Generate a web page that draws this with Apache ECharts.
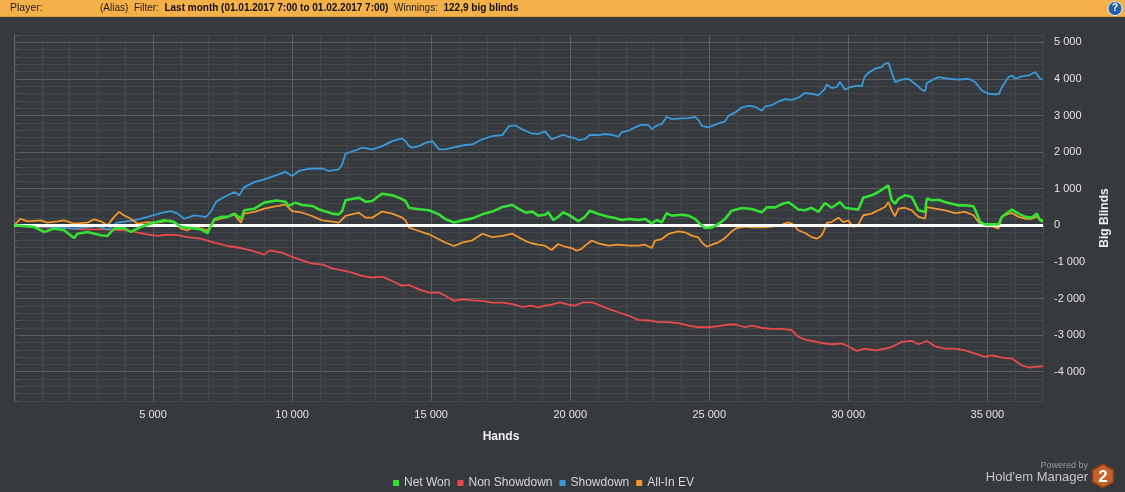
<!DOCTYPE html>
<html>
<head>
<meta charset="utf-8">
<script src="https://cdn.jsdelivr.net/npm/echarts@6/dist/echarts.min.js"></script>
<style>
  html, body { margin: 0; padding: 0; background: #36393d; }
  #chart { width: 1125px; height: 492px; }
</style>
</head>
<body>
<div id="chart"></div>
<script>
// [hands, big blinds]
const netWon = [
  [0, 0], [720, -45], [1080, -180], [1440, -90], [1800, -135], [2160, -345], [2280, -230], [2640, -180],
  [3120, -270], [3360, -290], [3600, -90], [3960, -75], [4200, -180], [4560, -45], [5040, 75], [5400, 135],
  [5760, 90], [6000, -45], [6360, -75], [6720, -110], [6960, -210], [7200, 165], [7440, 230], [7680, 230],
  [7920, 320], [8160, 180], [8280, 410], [8640, 455], [9000, 620], [9430, 680], [9760, 645], [9880, 530],
  [10120, 620], [10360, 555], [10720, 530], [10960, 440], [11200, 375], [11440, 320], [11680, 300], [11800, 390],
  [11920, 685], [12400, 755], [12640, 645], [12880, 665], [13120, 800], [13240, 865], [13600, 820], [13840, 755],
  [14080, 665], [14200, 480], [14560, 440], [14920, 410], [15280, 300], [15520, 165], [15820, 75], [16120, 135],
  [16480, 190], [16840, 300], [17200, 375], [17560, 500], [17920, 555], [18160, 440], [18400, 345], [18640, 375],
  [18850, 265], [19090, 290], [19210, 355], [19390, 145], [19570, 235], [19750, 355], [19930, 290], [20170, 175],
  [20290, 110], [20530, 235], [20710, 400], [21010, 310], [21370, 235], [21610, 200], [21850, 145], [22090, 175],
  [22450, 145], [22690, 175], [22930, 55], [23110, 145], [23290, 80], [23470, 330], [23650, 265], [24010, 290],
  [24250, 265], [24490, 175], [24670, 35], [24850, -75], [25090, -55], [25330, 35], [25570, 175], [25810, 400],
  [26170, 475], [26530, 445], [26890, 355], [27070, 490], [27370, 490], [27610, 580], [27850, 630], [28030, 535],
  [28200, 430], [28440, 410], [28680, 480], [28920, 365], [29160, 610], [29400, 480], [29700, 635], [29880, 480],
  [30120, 455], [30360, 430], [30540, 755], [30840, 820], [31080, 910], [31320, 1030], [31440, 1090], [31560, 685],
  [31680, 590], [31800, 725], [32040, 820], [32280, 775], [32520, 410], [32760, 365], [32820, 730], [33000, 685],
  [33240, 700], [33480, 635], [33720, 590], [33960, 545], [34200, 545], [34500, 520], [34620, 320], [34740, 90],
  [34920, 25], [35160, 25], [35400, 25], [35520, 230], [35760, 365], [35880, 430], [36120, 320], [36360, 230],
  [36600, 210], [36780, 320], [36900, 135], [37000, 135]
];

const nonShowdown = [
  [0, 0], [1200, -65], [1680, -65], [2400, -110], [3120, -110], [3960, -135], [4320, -180], [4800, -245],
  [5160, -290], [5520, -255], [5880, -270], [6240, -320], [6720, -365], [7200, -475], [7680, -565], [8160, -620],
  [8520, -685], [9000, -800], [9180, -685], [9640, -745], [10000, -865], [10360, -955], [10720, -1045], [11080, -1065],
  [11440, -1175], [11800, -1230], [12160, -1290], [12520, -1380], [12880, -1430], [13240, -1400], [13600, -1520], [13960, -1655],
  [14200, -1630], [14560, -1750], [14920, -1840], [15280, -1840], [15520, -1930], [15820, -2065], [16120, -2020], [16480, -2050],
  [16840, -2065], [17200, -2110], [17560, -2110], [17920, -2155], [18280, -2230], [18610, -2195], [18850, -2240], [19090, -2195],
  [19330, -2165], [19630, -2105], [19930, -2165], [20170, -2195], [20470, -2105], [20770, -2105], [21010, -2165], [21370, -2285],
  [21730, -2375], [22090, -2465], [22450, -2585], [22810, -2600], [23170, -2645], [23530, -2645], [23890, -2675], [24250, -2740],
  [24610, -2785], [24970, -2785], [25330, -2755], [25690, -2710], [25930, -2710], [26290, -2785], [26530, -2740], [26890, -2805],
  [27250, -2830], [27610, -2830], [27960, -2865], [28200, -3050], [28440, -3120], [28680, -3160], [29040, -3215], [29400, -3250],
  [29760, -3230], [30000, -3305], [30300, -3430], [30600, -3370], [30960, -3415], [31320, -3370], [31560, -3325], [31920, -3185],
  [32280, -3160], [32520, -3250], [32820, -3160], [33120, -3305], [33480, -3370], [33840, -3370], [34200, -3415], [34560, -3505],
  [34920, -3595], [35160, -3550], [35520, -3615], [35880, -3640], [36240, -3825], [36480, -3885], [36720, -3865], [37000, -3850]
];

const showdown = [
  [0, 0], [1200, -45], [2160, -90], [3000, -20], [3360, -120], [3720, 75], [4320, 135], [4800, 230],
  [5280, 335], [5640, 390], [5880, 320], [6120, 180], [6480, 270], [6900, 230], [7080, 365], [7260, 640],
  [7560, 775], [7920, 910], [8100, 820], [8280, 1045], [8640, 1180], [9000, 1255], [9520, 1390], [9760, 1465],
  [10000, 1345], [10240, 1485], [10600, 1545], [11080, 1555], [11320, 1485], [11680, 1530], [11800, 1665], [11920, 1955],
  [12280, 2050], [12520, 2120], [12880, 2075], [13240, 2165], [13600, 2300], [13960, 2375], [14080, 2300], [14200, 2165],
  [14320, 2120], [14560, 2165], [14800, 2255], [15040, 2300], [15280, 2075], [15520, 2075], [15880, 2140], [16240, 2195],
  [16480, 2210], [16840, 2350], [17200, 2440], [17560, 2465], [17800, 2710], [18040, 2730], [18280, 2620], [18610, 2510],
  [18850, 2495], [19090, 2565], [19330, 2355], [19570, 2420], [19750, 2475], [19930, 2420], [20170, 2385], [20290, 2330],
  [20530, 2355], [20710, 2475], [21010, 2465], [21250, 2495], [21490, 2475], [21730, 2420], [21850, 2540], [22090, 2585],
  [22330, 2675], [22570, 2750], [22810, 2740], [22930, 2630], [23170, 2750], [23290, 2765], [23470, 2965], [23650, 2900],
  [24010, 2920], [24250, 2930], [24490, 2965], [24610, 2875], [24730, 2720], [24970, 2675], [25210, 2750], [25450, 2810],
  [25570, 2840], [25690, 2990], [25930, 3085], [26170, 3220], [26410, 3265], [26650, 3240], [26890, 3130], [27010, 3240],
  [27250, 3285], [27490, 3385], [27730, 3450], [27960, 3430], [28200, 3485], [28440, 3615], [28680, 3595], [28920, 3550],
  [29160, 3730], [29220, 3850], [29400, 3750], [29580, 3775], [29700, 3915], [29880, 3705], [30060, 3775], [30360, 3820],
  [30480, 3795], [30580, 4050], [30720, 4165], [30960, 4280], [31200, 4320], [31320, 4415], [31440, 4440], [31560, 4185],
  [31680, 3910], [31920, 3980], [32160, 4005], [32400, 3870], [32640, 3705], [32760, 3665], [32820, 3885], [33000, 3960],
  [33240, 4050], [33600, 4005], [33960, 3980], [34320, 4005], [34560, 3915], [34800, 3685], [35040, 3595], [35280, 3575],
  [35420, 3595], [35520, 3775], [35760, 4050], [35880, 4095], [36000, 4005], [36240, 4070], [36480, 4095], [36720, 4185],
  [36900, 4005], [37000, 3980]
];

const allInEv = [
  [0, 0], [240, 180], [480, 110], [960, 135], [1200, 75], [1560, 110], [1800, 135], [2160, 45],
  [2640, 75], [2880, 165], [3120, 110], [3360, 0], [3600, 230], [3780, 365], [3960, 270], [4200, 180],
  [4440, 45], [4800, 90], [5160, 75], [5640, 135], [6000, -90], [6240, -135], [6480, -45], [6720, -90],
  [6960, -135], [7200, 135], [7440, 180], [7680, 230], [7920, 290], [8160, 75], [8280, 320], [8640, 365],
  [9000, 455], [9430, 525], [9520, 530], [9760, 575], [10000, 390], [10360, 345], [10720, 255], [11080, 135],
  [11440, 100], [11680, 75], [11920, 255], [12400, 345], [12640, 210], [12880, 210], [13240, 375], [13600, 320],
  [13960, 210], [14080, 135], [14200, -65], [14560, -155], [14920, -245], [15280, -380], [15520, -475], [15820, -565],
  [16120, -475], [16480, -410], [16840, -230], [17200, -320], [17560, -290], [17920, -230], [18160, -335], [18400, -430],
  [18610, -490], [18850, -530], [19090, -555], [19330, -675], [19570, -510], [19810, -585], [20050, -620], [20230, -690],
  [20410, -645], [20530, -555], [20770, -420], [21010, -490], [21370, -555], [21730, -530], [22090, -555], [22450, -555],
  [22690, -530], [22930, -620], [23050, -420], [23290, -375], [23530, -235], [23890, -165], [24130, -190], [24370, -280],
  [24610, -330], [24730, -465], [24910, -585], [25090, -530], [25330, -465], [25570, -345], [25810, -165], [25990, -75],
  [26290, -35], [26530, -55], [26890, -55], [27250, -35], [27610, 20], [27850, 80], [28030, 20], [28200, -135],
  [28440, -210], [28680, -320], [28860, -365], [29040, -275], [29160, -90], [29220, 65], [29400, 90], [29640, 210],
  [29820, 90], [30000, 135], [30180, -45], [30360, 25], [30540, 275], [30840, 320], [31080, 410], [31320, 500],
  [31440, 635], [31560, 410], [31680, 245], [31800, 455], [32040, 480], [32280, 410], [32520, 230], [32760, 180],
  [32820, 500], [33120, 455], [33480, 410], [33840, 335], [34200, 365], [34500, 275], [34680, 90], [34920, -25],
  [35160, -25], [35400, -90], [35520, 230], [35760, 320], [35880, 335], [36120, 230], [36360, 180], [36600, 180],
  [36780, 245], [36900, 135], [37000, 90]
];

const seriesNames = ['Net Won', 'Non Showdown', 'Showdown', 'All-In EV'];
const seriesColors = ['#35e035', '#e84a4a', '#3a9ad9', '#f2962f'];

const FONT = 'Liberation Sans';
const minorLine = '#44474b';
const majorLine = '#5c5f63';

function fmt(v) {
  const s = String(Math.abs(v)).replace(/\B(?=(\d{3})+(?!\d))/g, ' ');
  return (v < 0 ? '-' : '') + s;
}

const chart = echarts.init(document.getElementById('chart'), null, { renderer: 'canvas' });

const option = {
  animation: false,
  backgroundColor: '#36393d',
  grid: { left: 14, right: 82, top: 35, height: 366, outerBoundsMode: 'none', containLabel: false },
  legend: {
    left: 388,
    top: 472,
    icon: 'rect',
    itemWidth: 6,
    itemHeight: 6,
    itemGap: 7,
    data: seriesNames,
    textStyle: { color: '#d6d6d6', fontSize: 12, fontFamily: FONT },
    selectedMode: false
  },
  xAxis: {
    type: 'value',
    min: 0,
    max: 37000,
    interval: 1000,
    axisLine: { show: true, lineStyle: { color: '#66696d', width: 1 } },
    axisTick: { show: true, length: 4, lineStyle: { color: '#55585c' } },
    axisLabel: {
      color: '#e2e2e2', fontSize: 11, fontFamily: FONT, margin: 8,
      formatter: v => (v > 0 && v % 5000 === 0 ? fmt(v) : '')
    },
    splitLine: { show: true, lineStyle: { color: [majorLine, minorLine, minorLine, minorLine, minorLine], width: 1 } }
  },
  yAxis: {
    type: 'value',
    position: 'right',
    min: -4800,
    max: 5200,
    interval: 200,
    name: 'Big Blinds',
    nameLocation: 'middle',
    nameRotate: 90,
    nameGap: 56,
    nameTextStyle: { color: '#eeeeee', fontSize: 12, fontWeight: 'bold', fontFamily: FONT },
    axisLine: { show: true, lineStyle: { color: '#66696d', width: 1 } },
    axisTick: { show: true, length: 5, lineStyle: { color: '#55585c' } },
    axisLabel: {
      color: '#e2e2e2', fontSize: 11, fontFamily: FONT, margin: 11,
      formatter: v => (v % 1000 === 0 ? fmt(v) : '')
    },
    splitLine: { show: true, lineStyle: { color: [minorLine, minorLine, minorLine, minorLine, majorLine], width: 1 } }
  },
  series: [
    { name: 'Non Showdown', data: nonShowdown, width: 1.8, idx: 1 },
    { name: 'Showdown', data: showdown, width: 1.8, idx: 2 },
    { name: 'All-In EV', data: allInEv, width: 1.8, idx: 3 },
    { name: 'Net Won', data: netWon, width: 2.6, idx: 0 }
  ].map((s, i) => ({
    type: 'line',
    name: s.name,
    data: s.data,
    showSymbol: false,
    symbol: 'none',
    z: 2 + i,
    color: seriesColors[s.idx],
    lineStyle: { color: seriesColors[s.idx], width: s.width },
    markLine: s.name === 'Net Won' ? {
      silent: true,
      symbol: ['none', 'none'],
      label: { show: false },
      lineStyle: { color: '#ffffff', width: 3, type: 'solid' },
      data: [{ yAxis: 0 }]
    } : undefined
  })),
  graphic: [
    // header bar
    { type: 'rect', left: 0, top: 0, shape: { width: 1125, height: 17 }, style: { fill: '#f4b14a' }, z: 10 },
    { type: 'rect', left: 0, top: 16, shape: { width: 1125, height: 1 }, style: { fill: '#d89a3e' }, z: 10 },
    { type: 'text', x: 10, y: 8.5, style: { text: 'Player:', fill: '#1e1e1e', font: '10.5px "Liberation Sans"', verticalAlign: 'middle' }, z: 11 },
    {
      type: 'text', x: 100, y: 8.5, z: 11,
      style: {
        text: '{n|(Alias)  Filter:  }{b|Last month (01.01.2017 7:00 to 01.02.2017 7:00)}{n|  Winnings:  }{b|122,9 big blinds}',
        verticalAlign: 'middle',
        rich: {
          n: { fill: '#1e1e1e', fontSize: 10, fontFamily: FONT },
          b: { fill: '#111111', fontSize: 10, fontWeight: 'bold', fontFamily: FONT }
        }
      }
    },
    // help icon
    { type: 'circle', shape: { cx: 1115, cy: 8.5, r: 7 }, style: { fill: '#1d62a8', stroke: '#e6eef7', lineWidth: 1 }, z: 11 },
    { type: 'text', x: 1115, y: 8.5, style: { text: '?', fill: '#ffffff', font: 'bold 10px "Liberation Sans"', align: 'center', verticalAlign: 'middle' }, z: 12 },
    // axis title
    { type: 'text', x: 501, y: 437, style: { text: 'Hands', fill: '#eeeeee', font: 'bold 12px "Liberation Sans"', align: 'center', verticalAlign: 'middle' } },
    // branding
    { type: 'text', x: 1088, y: 466, style: { text: 'Powered by', fill: '#9a9c9f', font: '9px "Liberation Sans"', align: 'right', verticalAlign: 'middle' } },
    { type: 'text', x: 1088, y: 477, style: { text: "Hold'em Manager", fill: '#c4c6c8', font: '13px "Liberation Sans"', align: 'right', verticalAlign: 'middle' } },
    {
      type: 'polygon',
      shape: { points: [[1103, 464], [1113.4, 470], [1113.4, 482], [1103, 488], [1092.6, 482], [1092.6, 470]] },
      style: { fill: '#c4622d', stroke: '#8a3e18', lineWidth: 1.5 }
    },
    { type: 'text', x: 1103, y: 477, style: { text: '2', fill: '#ffffff', font: 'bold 17px "Liberation Sans"', align: 'center', verticalAlign: 'middle' }, z: 5 }
  ]
};

chart.setOption(option);
</script>
</body>
</html>
